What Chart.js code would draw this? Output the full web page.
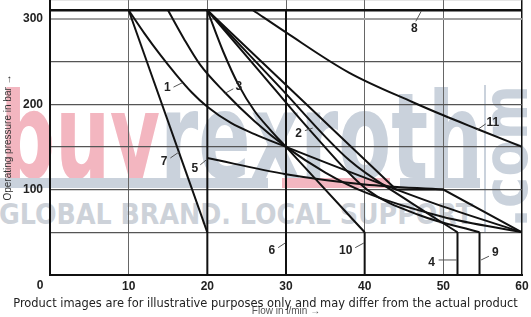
<!DOCTYPE html>
<html>
<head>
<meta charset="utf-8">
<script src="https://cdn.jsdelivr.net/npm/chart.js@4.4.1/dist/chart.umd.min.js"></script>
<style>
html, body { margin: 0; padding: 0; background: #fff; }
#wrap { position: relative; width: 531px; height: 317px; overflow: hidden; }
#wm { position: absolute; left: 0; top: 0; width: 531px; height: 317px; z-index: 0; }
#c { position: absolute; left: 0; top: 0; z-index: 1; }
#foot { position: absolute; left: 0; top: 296px; width: 531px; text-align: center; z-index: 2;
        font-family: 'DejaVu Sans'; font-size: 11px; line-height: 14px; color: #222; white-space: nowrap; }
.wm { position: absolute; white-space: nowrap; transform-origin: 0 0; font-family: 'DejaVu Sans'; font-weight: bold; }
.bar { position: absolute; top: 178px; height: 10px; }
</style>
</head>
<body>
<div id="wrap">
  <div id="wm">
    <div style="position:absolute;left:0;top:0;width:531px;height:179px;overflow:hidden">
      <div class="wm" id="logo" style="left:0;top:77px;font-size:120px;line-height:120px"><span style="color:#f3b6c0">buy</span><span style="color:#cad2dc">rexroth</span></div>
    </div>
    <div class="bar" style="left:0;width:268px;background:#cad2dc"></div>
    <div class="bar" style="left:282px;width:108px;background:#f3b6c0"></div>
    <div class="bar" style="left:400px;width:80px;background:#cad2dc"></div>
    <div style="position:absolute;left:484px;top:85px;width:2px;height:147px;background:#cad2dc"></div>
    <div class="wm" id="com" style="left:475px;top:228px;font-size:62px;line-height:62px;color:#cad2dc">.com</div>
    <div class="wm" id="slogan" style="left:-1px;top:201px;font-size:28px;line-height:28px;color:#cdd2d9">GLOBAL BRAND. LOCAL SUPPORT</div>
  </div>
  <canvas id="c" width="531" height="317"></canvas>
  <div id="foot"><span id="footText">Product images are for illustrative purposes only and may differ from the actual product</span></div>
</div>
<script>
// flow in l/min, operating pressure in bar
var curve1 = [[10, 310], [12, 283], [14, 258], [16, 235], [18, 214], [20, 197], [23, 178], [26, 165], [30, 150], [40, 114], [50, 80], [60, 50]];
var curve2 = [[20, 310], [26.5, 240], [33, 170], [40.3, 100], [47, 70], [54.6, 50]];
var curve3 = [[15, 310], [17, 277], [19.1, 246], [22.2, 214], [26, 180], [30, 150], [35, 120], [40, 97], [50, 68], [60, 50]];
var curve4 = [[20, 310], [29, 222], [38.1, 134], [45, 90], [51.8, 50]];
var curve5 = [[20, 137], [30, 118], [40, 106], [50, 100]];
var curve6 = [[30, 310], [30, 0]];
var curve7 = [[10, 310], [20, 50]];
var curve8 = [[0, 310], [60, 310]];
var curve10 = [[20, 310], [22, 262], [24, 222], [26, 192], [28, 170], [30, 150], [34, 110], [38, 70], [40, 50]];
var curve11 = [[25.8, 310], [30, 284], [38, 237], [46.2, 202], [50, 187], [54.3, 171], [60, 150]];
var plateau = [[20, 310], [44, 100], [50, 100], [60, 50]];
var limit20 = [[20, 310], [20, 0]];

var xTicks = [0, 10, 20, 30, 40, 50, 60];
var yLabels = [100, 200, 300];

// curve numbers: text position, leader start, leader end
var callouts = [
    ['1', [14.9, 219], [15.7, 220], [16.8, 225]],
    ['2', [31.6, 165], [32.4, 169], [33.4, 172]],
    ['3', [24.0, 221], [23.3, 218], [22.3, 213]],
    ['4', [48.5, 14], [49.4, 17.6], [51.7, 17.6]],
    ['5', [18.4, 125], [19.1, 129], [19.9, 135]],
    ['6', [28.2, 28], [29.0, 32], [29.9, 37.5]],
    ['7', [14.5, 133], [15.3, 137], [16.4, 144]],
    ['8', [46.3, 288], [46.5, 297], [47.2, 309]],
    ['9', [56.6, 26], [55.8, 22], [54.8, 17.6]],
    ['10', [37.6, 28], [38.8, 32], [39.9, 37.5]],
    ['11', [56.3, 178], [55.4, 177], [54.3, 170]]
];

function pts(arr) {
    return arr.map(function(p) { return { x: p[0], y: p[1] }; });
}
function drop(arr) {
    var last = arr[arr.length - 1];
    return [{ x: last[0], y: last[1] }, { x: last[0], y: 0 }];
}

var series = [
    { data: pts(curve8), w: 2.5 },
    { data: pts(limit20) },
    { data: pts(curve6) },
    { data: pts(curve7) },
    { data: pts(curve1), smooth: true },
    { data: pts(curve3), smooth: true },
    { data: pts(curve10), smooth: true },
    { data: drop(curve10) },
    { data: pts(curve2), smooth: true },
    { data: drop(curve2) },
    { data: pts(curve4), smooth: true },
    { data: drop(curve4) },
    { data: pts(curve5), smooth: true },
    { data: pts(plateau) },
    { data: pts(curve11), smooth: true }
];

var datasets = series.map(function(s) {
    return {
        data: s.data,
        showLine: true,
        borderColor: '#111',
        borderWidth: s.w || 2,
        pointRadius: 0,
        fill: false,
        cubicInterpolationMode: s.smooth ? 'monotone' : 'default',
        tension: 0
    };
});

var calloutPlugin = {
    id: 'callouts',
    afterDatasetsDraw: function(chart) {
        var ctx = chart.ctx, xs = chart.scales.x, ys = chart.scales.y;
        ctx.save();
        ctx.strokeStyle = '#555';
        ctx.lineWidth = 1;
        ctx.fillStyle = '#222';
        ctx.font = 'bold 12px "Liberation Sans"';
        ctx.textAlign = 'center';
        ctx.textBaseline = 'middle';
        callouts.forEach(function(c) {
            ctx.beginPath();
            ctx.moveTo(xs.getPixelForValue(c[2][0]), ys.getPixelForValue(c[2][1]));
            ctx.lineTo(xs.getPixelForValue(c[3][0]), ys.getPixelForValue(c[3][1]));
            ctx.stroke();
            ctx.fillText(c[0], xs.getPixelForValue(c[1][0]), ys.getPixelForValue(c[1][1]));
        });
        // the origin label sits left of the axis corner
        ctx.fillText('0', xs.getPixelForValue(0) - 10, ys.bottom + 11);
        ctx.restore();
    }
};

function noPad(s) {
    s.paddingTop = 0;
    s.paddingBottom = 0;
    s.paddingLeft = 0;
    s.paddingRight = 0;
}

new Chart(document.getElementById('c').getContext('2d'), {
    type: 'scatter',
    data: { datasets: datasets },
    options: {
        responsive: false,
        animation: false,
        devicePixelRatio: 1,
        layout: { padding: { left: 0, right: 9, top: 0, bottom: 0 } },
        plugins: { legend: { display: false }, tooltip: { enabled: false } },
        scales: {
            x: {
                type: 'linear',
                min: 0,
                max: 60,
                afterFit: function(s) { s.height = 42; noPad(s); },
                afterBuildTicks: function(s) { s.ticks = xTicks.map(function(v) { return { value: v }; }); },
                ticks: {
                    padding: 4,
                    color: '#222',
                    font: { family: 'Liberation Sans', size: 12, weight: 'bold' },
                    callback: function(v) { return v === 0 ? '' : v; }
                },
                grid: {
                    drawTicks: false,
                    color: function(c) { return c.tick && c.tick.value === 60 ? '#111' : '#666'; },
                    lineWidth: function(c) { return c.tick && c.tick.value === 60 ? 1.5 : 1; }
                },
                border: { color: '#111', width: 2 },
                title: {
                    display: true,
                    text: 'Flow in l/min \u2192',
                    color: '#555',
                    font: { family: 'Liberation Sans', size: 10 },
                    padding: { top: 0, bottom: 0 }
                }
            },
            y: {
                type: 'linear',
                min: 0,
                max: 322,
                afterFit: function(s) { s.width = 50; noPad(s); },
                ticks: {
                    stepSize: 50,
                    padding: 7,
                    color: '#222',
                    font: { family: 'Liberation Sans', size: 12, weight: 'bold' },
                    callback: function(v) { return yLabels.indexOf(v) >= 0 ? v : ''; }
                },
                grid: {
                    drawTicks: false,
                    color: function(c) {
                        var v = c.tick && c.tick.value;
                        return v === 300 ? '#a0a0a0' : (v === 322 ? '#999' : '#555');
                    },
                    lineWidth: function(c) { return c.tick && c.tick.value === 300 ? 2 : 1.2; }
                },
                border: { color: '#111', width: 2 },
                title: {
                    display: true,
                    text: 'Operating pressure in bar \u2192',
                    color: '#333',
                    font: { family: 'Liberation Sans', size: 10 },
                    padding: { top: 2, bottom: 0 }
                }
            }
        }
    },
    plugins: [calloutPlugin]
});

// fit the watermark and footer texts to the widths seen in the picture
function fitWidth(id, w) {
    var el = document.getElementById(id);
    var r = el.getBoundingClientRect();
    el.style.transform = 'scaleX(' + (w / r.width) + ')';
}
fitWidth('logo', 483);
fitWidth('slogan', 474);
var com = document.getElementById('com');
var comW = com.getBoundingClientRect().width;
com.style.transform = 'rotate(-90deg) scaleX(' + (143 / comW) + ')';
var foot = document.getElementById('footText');
var fw = foot.getBoundingClientRect().width;
foot.style.fontSize = (11 * 505 / fw) + 'px';
</script>
</body>
</html>
